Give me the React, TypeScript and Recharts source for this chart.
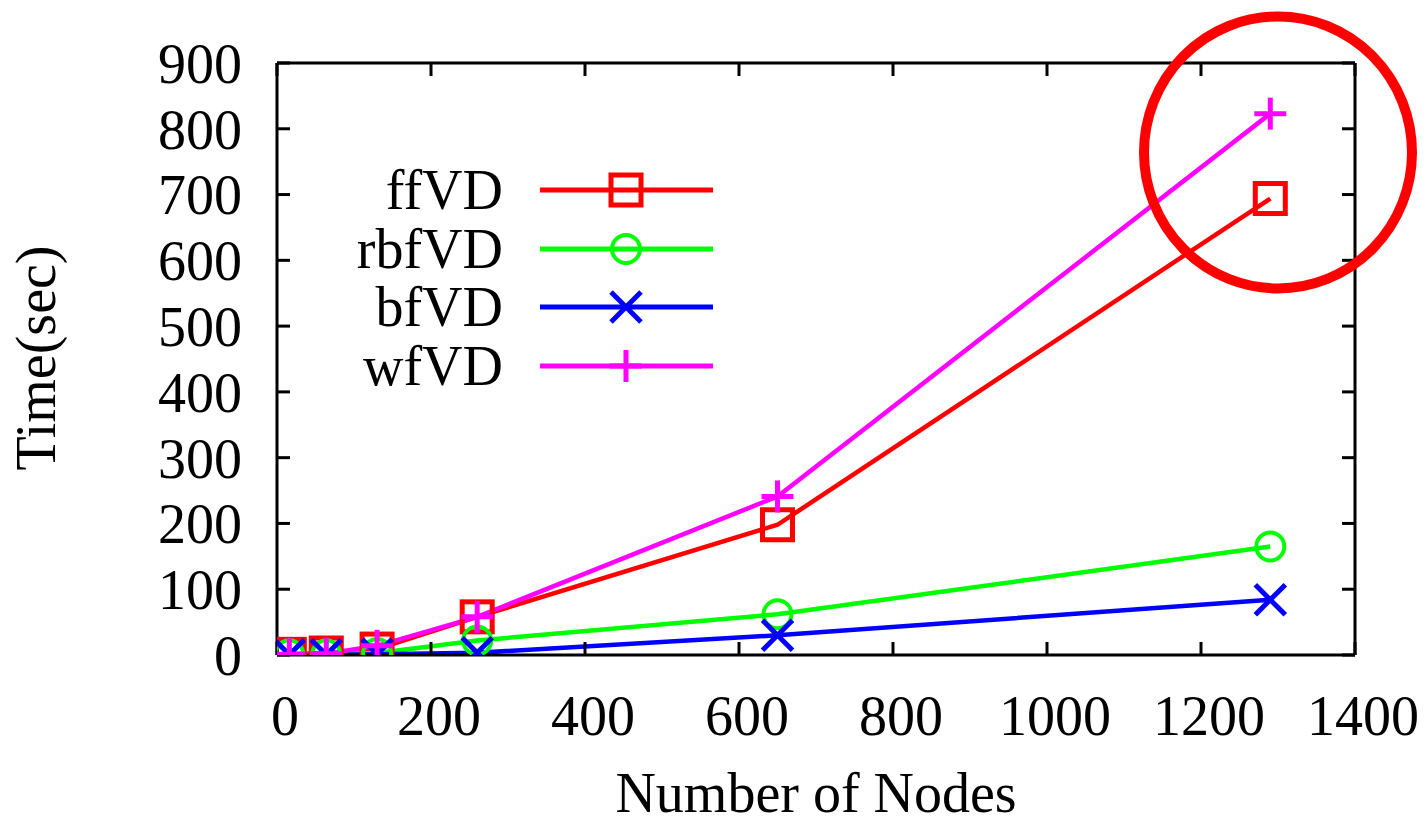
import React from 'react';
import { LineChart, Line, XAxis, YAxis, ReferenceDot, Customized } from 'recharts';

const nodes = [16, 64, 130, 260, 650, 1290];
const ffVD = [1, 3, 9, 58, 198, 694];
const rbfVD = [1, 1, 3, 22, 62, 165];
const bfVD = [0.5, 0.5, 1, 3.5, 30, 84];
const wfVD = [1, 2, 14, 58, 241, 823];

const xTicks = [0, 200, 400, 600, 800, 1000, 1200, 1400];
const yTicks = [0, 100, 200, 300, 400, 500, 600, 700, 800, 900];

const seriesNames = ['ffVD', 'rbfVD', 'bfVD', 'wfVD'];
const seriesColors = ['#ff0000', '#00ff00', '#0000ff', '#ff00ff'];
const seriesShapes = ['square', 'circle', 'cross', 'plus'];

const data = nodes.map((n, i) => ({
  n,
  ffVD: ffVD[i],
  rbfVD: rbfVD[i],
  bfVD: bfVD[i],
  wfVD: wfVD[i],
}));

const FONT = '"Liberation Serif", "DejaVu Serif", serif';

function Marker({ cx, cy, shape, color }: any) {
  if (cx == null || cy == null) return null;
  const sw = 5;
  if (shape === 'square') {
    return <rect x={cx - 15} y={cy - 15} width={30} height={30} fill="none" stroke={color} strokeWidth={sw} />;
  }
  if (shape === 'circle') {
    return <circle cx={cx} cy={cy} r={14} fill="none" stroke={color} strokeWidth={4} />;
  }
  if (shape === 'cross') {
    return (
      <g stroke={color} strokeWidth={sw}>
        <line x1={cx - 15} y1={cy - 15} x2={cx + 15} y2={cy + 15} />
        <line x1={cx - 15} y1={cy + 15} x2={cx + 15} y2={cy - 15} />
      </g>
    );
  }
  return (
    <g stroke={color} strokeWidth={sw}>
      <line x1={cx - 16} y1={cy} x2={cx + 16} y2={cy} />
      <line x1={cx} y1={cy - 16} x2={cx} y2={cy + 16} />
    </g>
  );
}

function LegendBox() {
  const rows = [190, 249, 307, 366];
  return (
    <g>
      {seriesNames.map((name, i) => (
        <g key={name}>
          <text x={503} y={rows[i] + 19} textAnchor="end" fontFamily={FONT} fontSize={56} fill="#000">
            {name}
          </text>
          <line x1={540} y1={rows[i]} x2={713} y2={rows[i]} stroke={seriesColors[i]} strokeWidth={5} />
          <Marker cx={626} cy={rows[i]} shape={seriesShapes[i]} color={seriesColors[i]} />
        </g>
      ))}
      <text
        x={0}
        y={0}
        transform="translate(55,358) rotate(-90)"
        textAnchor="middle"
        fontFamily={FONT}
        fontSize={56}
        fill="#000"
      >
        Time(sec)
      </text>
      <text x={816} y={812} textAnchor="middle" fontFamily={FONT} fontSize={56} fill="#000">
        Number of Nodes
      </text>
    </g>
  );
}

const tickStyle = { fontFamily: FONT, fontSize: 56, fill: '#000' };
const emptyTick = () => <g />;

export default function App() {
  return (
    <div style={{ position: 'absolute', left: 0, top: 0, background: '#fff' }}>
      <LineChart
        width={1427}
        height={825}
        data={data}
        margin={{ top: 43, right: 0, left: 0, bottom: 70 }}
      >
        <XAxis
          dataKey="n"
          type="number"
          domain={[0, 1400]}
          ticks={xTicks}
          interval={0}
          allowDataOverflow
          height={100}
          tickSize={-13}
          tickMargin={53}
          tick={{ ...tickStyle, dx: 8 }}
          axisLine={{ stroke: '#000', strokeWidth: 3 }}
          tickLine={{ stroke: '#000', strokeWidth: 3 }}
        />
        <XAxis
          xAxisId="top"
          orientation="top"
          dataKey="n"
          type="number"
          domain={[0, 1400]}
          ticks={xTicks}
          interval={0}
          allowDataOverflow
          height={20}
          tickSize={-13}
          tick={emptyTick}
          axisLine={{ stroke: '#000', strokeWidth: 3 }}
          tickLine={{ stroke: '#000', strokeWidth: 3 }}
        />
        <YAxis
          type="number"
          domain={[0, 900]}
          ticks={yTicks}
          interval={0}
          allowDataOverflow
          width={277}
          tickSize={-13}
          tickMargin={48}
          tick={tickStyle}
          axisLine={{ stroke: '#000', strokeWidth: 3 }}
          tickLine={{ stroke: '#000', strokeWidth: 3 }}
        />
        <YAxis
          yAxisId="right"
          orientation="right"
          type="number"
          domain={[0, 900]}
          ticks={yTicks}
          interval={0}
          allowDataOverflow
          width={72}
          tickSize={-13}
          tick={emptyTick}
          axisLine={{ stroke: '#000', strokeWidth: 3 }}
          tickLine={{ stroke: '#000', strokeWidth: 3 }}
        />
        {seriesNames.map((name, i) => (
          <Line
            key={name}
            dataKey={name}
            stroke={seriesColors[i]}
            strokeWidth={4.5}
            isAnimationActive={false}
            dot={(p: any) => <Marker key={`${name}-${p.index}`} cx={p.cx} cy={p.cy} shape={seriesShapes[i]} color={seriesColors[i]} />}
            activeDot={false}
          />
        ))}
        <ReferenceDot
          x={1300}
          y={764}
          ifOverflow="visible"
          shape={(p: any) => (
            <ellipse cx={p.cx} cy={p.cy} rx={134} ry={136} fill="none" stroke="#ff0000" strokeWidth={10} />
          )}
        />
        <Customized component={LegendBox} />
      </LineChart>
    </div>
  );
}
